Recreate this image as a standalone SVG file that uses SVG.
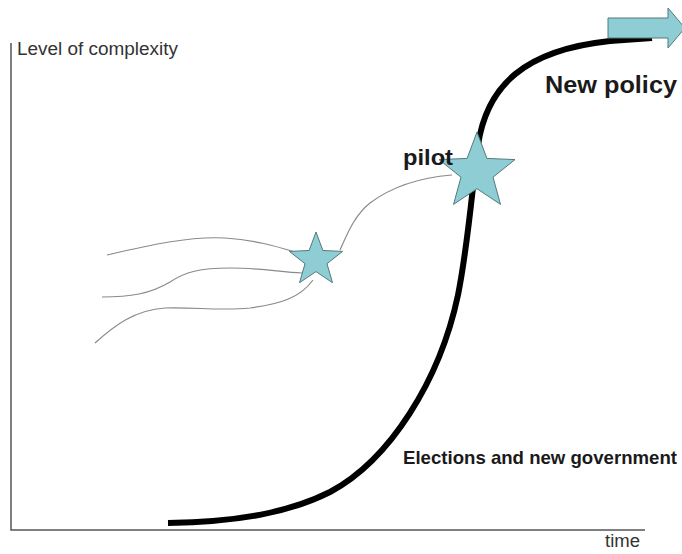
<svg xmlns="http://www.w3.org/2000/svg" width="682" height="554" viewBox="0 0 682 554">
<style>
.axis{stroke:#555;stroke-width:1.5;fill:none}
.thin{stroke:#8a8a8a;stroke-width:1.2;fill:none}
.main{stroke:#000;stroke-width:6;fill:none;stroke-linecap:butt}
.teal{fill:#8ecdd4;stroke:#53797e;stroke-width:1}
.lbl{font-family:"Liberation Sans",Arial,sans-serif;fill:#333}
.bold{font-family:"Liberation Sans",Arial,sans-serif;font-weight:bold;fill:#1a1a1a}
</style>
<rect width="682" height="554" fill="#fff"/>
<g id="axes">
<path class="axis" d="M11,43 V530 H645"/>
<text class="lbl" x="17" y="55" font-size="18" textLength="161" lengthAdjust="spacingAndGlyphs">Level of complexity</text>
<text class="lbl" x="605" y="547" font-size="18" textLength="35" lengthAdjust="spacingAndGlyphs">time</text>
</g>
<g id="connectors">
<path class="thin" d="M107,255 C150,245 190,236 225,238 C255,240 275,246 295,252"/>
<path class="thin" d="M102,297 C130,297 150,294 170,282 C185,272 200,268 230,268 C260,268 280,272 302,273"/>
<path class="thin" d="M95,343 C115,325 135,310 165,308 C195,307 220,311 250,308 C280,304 300,298 313,280"/>
<path class="thin" d="M340,250 C348,232 355,215 370,203 C390,188 415,178 452,175"/>
<path class="main" d="M168,523 C240,522 290,512 330,492 C390,460 440,380 458,295 C468,245 472,190 478,145 C487,85 525,50 610,41 L652,38"/>
</g>
<g id="star-small">
<polygon class="teal" points="316,232 322.9,250.5 342.6,251.4 327,263.7 332.5,282.7 316,271.6 299.5,282.7 305,263.7 289.4,251.4 309.1,250.5"/>
</g>
<g id="star-pilot">
<polygon class="teal" points="477,132 486.9,158.4 515,159.6 493,177.2 500.5,204.4 477,188.7 453.5,204.4 461,177.2 439,159.6 467.1,158.4"/>
<text class="bold" x="403" y="165" font-size="22" textLength="50" lengthAdjust="spacingAndGlyphs">pilot</text>
</g>
<g id="new-policy">
<polygon class="teal" points="608,18 668,18 668,8 685,28 668,48 668,38 608,38"/>
<text class="bold" x="545" y="93" font-size="23.5" textLength="132" lengthAdjust="spacingAndGlyphs">New policy</text>
</g>
<g id="elections">
<text class="bold" x="403" y="464" font-size="18.5" textLength="274" lengthAdjust="spacingAndGlyphs">Elections and new government</text>
</g>
</svg>
